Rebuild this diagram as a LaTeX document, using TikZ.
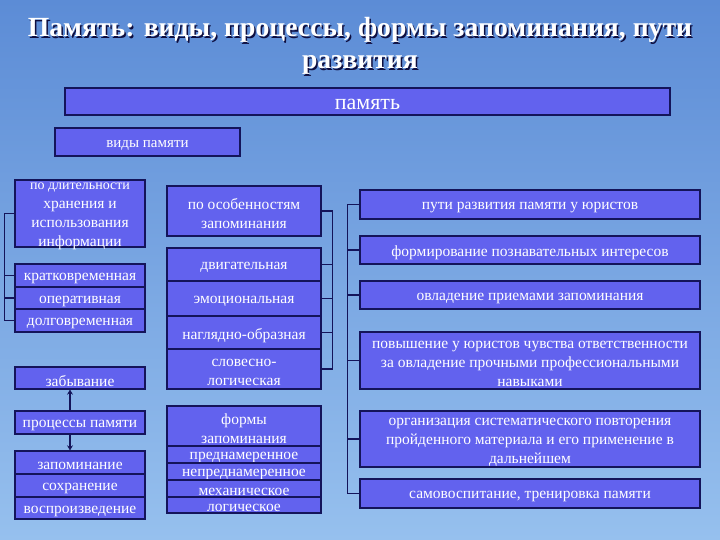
\documentclass[tikz,border=0pt]{standalone}
\usepackage{fontspec}
\setmainfont{Liberation Serif}
\usetikzlibrary{arrows.meta}
\definecolor{boxblue}{RGB}{98,98,238}
\definecolor{navy}{RGB}{20,20,90}
\definecolor{skytop}{RGB}{92,140,214}
\definecolor{skybot}{RGB}{150,192,238}
\newcommand{\bx}[6]{\node[bx,minimum width={#4-#2},minimum height={#5-#3}] (#1) at ({(#2+#4)/2},{(#3+#5)/2}) {};
\node[bt] (#1t) at ({(#2+#4)/2},{(#3+#5)/2+3}) {#6};}
\tikzset{bx/.style={draw=navy,line width=1.3pt,fill=boxblue,inner sep=0pt},
 bt/.style={text=white,inner sep=0pt,align=center,font=\fontsize{15.5}{19}\selectfont},
 br/.style={draw=navy,line width=1.3pt},
 ar/.style={draw=navy,line width=1.8pt,-{Stealth[length=5pt,width=6pt]}}}
\begin{document}
\begin{tikzpicture}[x=1pt,y=-1pt]
\shade[top color=skytop,bottom color=skybot] (0,0) rectangle (720,540);
\useasboundingbox (0,0) rectangle (720,540);
\node[text=navy!70!black,font=\bfseries\fontsize{27.7}{32}\selectfont,align=center] at (361.5,47.5) {Память: виды, процессы, формы запоминания, пути\\развития};
\node (title) [text=white,font=\bfseries\fontsize{27.7}{32}\selectfont,align=center] at (360,46) {Память: виды, процессы, формы запоминания, пути\\развития};
\bx{pam}{65}{88}{670}{115}{\fontsize{22}{24}\selectfont память}
\bx{vid}{55}{128}{240}{156}{\fontsize{15}{18}\selectfont виды памяти}
\bx{dl}{15}{180}{145}{247}{\fontsize{14}{16}\selectfont по длительности\\хранения и\\использования\\информации}
\bx{kr}{15}{264}{145}{287}{кратковременная}
\bx{op}{15}{287}{145}{309}{оперативная}
\bx{do}{15}{309}{145}{332}{долговременная}
\bx{zab}{15}{367}{145}{389}{забывание}
\bx{pr}{15}{411}{145}{434}{процессы памяти}
\bx{za}{15}{451}{145}{474}{запоминание}
\bx{so}{15}{474}{145}{497}{сохранение}
\bx{vo}{15}{497}{145}{519}{воспроизведение}
\bx{os}{167}{186}{321}{236}{по особенностям\\запоминания}
\bx{dv}{167}{248}{321}{281}{двигательная}
\bx{em}{167}{281}{321}{316}{эмоциональная}
\bx{na}{167}{316}{321}{349}{наглядно-образная}
\bx{sl}{167}{349}{321}{389}{словесно-\\логическая}
\bx{fo}{167}{406}{321}{446}{формы\\запоминания}
\bx{pn}{167}{446}{321}{463}{преднамеренное}
\bx{np}{167}{463}{321}{480}{непреднамеренное}
\bx{me}{167}{480}{321}{497}{механическое}
\bx{lo}{167}{497}{321}{513}{логическое}
\bx{pu}{360}{190}{700}{219}{пути развития памяти у юристов}
\bx{fi}{360}{236}{700}{264}{формирование познавательных интересов}
\bx{ov}{360}{281}{700}{309}{овладение приемами запоминания}
\bx{po}{360}{332}{700}{389}{повышение у юристов чувства ответственности\\за овладение прочными профессиональными\\навыками}
\bx{or}{360}{411}{700}{467}{организация систематического повторения\\пройденного материала и его применение в\\дальнейшем}
\bx{sa}{360}{479}{700}{508}{самовоспитание, тренировка памяти}
% left bracket
\draw[br] (dl.west) -- ++(-10,0) |- (do.west);
\draw[br] (kr.west) -- ++(-10,0);
\draw[br] (op.west) -- ++(-10,0);
% middle bracket
\draw[br] (os.east) -- ++(11,0) |- (sl.east);
\foreach \n in {dv,em,na} \draw[br] (\n.east) -- ++(11,0);
% right bracket
\draw[br] (pu.west) -- ++(-12,0) |- (sa.west);
\foreach \n in {fi,ov,po,or} \draw[br] (\n.west) -- ++(-12,0);
% arrows
\draw[ar] (pr.north -| 70,0) -- (zab.south -| 70,0);
\draw[ar] (pr.south -| 70,0) -- (za.north -| 70,0);
\end{tikzpicture}
\end{document}
